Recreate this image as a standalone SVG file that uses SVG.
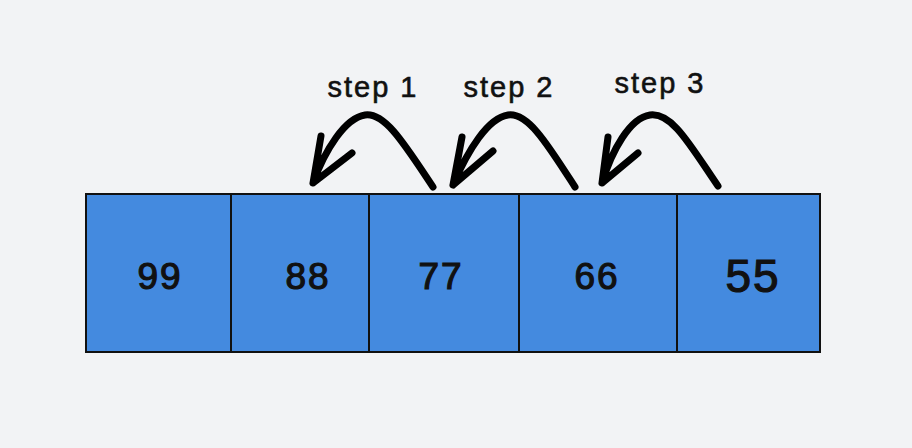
<svg xmlns="http://www.w3.org/2000/svg" width="912" height="448" viewBox="0 0 912 448">
<style>
.cell{fill:#448ADF;stroke:#111;stroke-width:2}
.num{font-family:"Liberation Sans",Arial,sans-serif;font-size:37px;fill:#111;stroke:#111;stroke-width:1.2;text-anchor:middle;letter-spacing:2px}
.lbl{font-family:"Liberation Sans",Arial,sans-serif;font-size:29px;fill:#111;stroke:#111;stroke-width:0.6;text-anchor:middle;letter-spacing:2px}
.arr{fill:none;stroke:#000;stroke-width:7;stroke-linecap:round;stroke-linejoin:round}
</style>
<rect width="912" height="448" fill="#F2F3F5"/>
<g id="cell-99"><rect class="cell" x="86" y="194" width="145" height="158"/><text class="num" x="160" y="289">99</text></g>
<g id="cell-88"><rect class="cell" x="231" y="194" width="138" height="158"/><text class="num" x="308" y="289">88</text></g>
<g id="cell-77"><rect class="cell" x="369" y="194" width="150" height="158"/><text class="num" x="441" y="289">77</text></g>
<g id="cell-66"><rect class="cell" x="519" y="194" width="158" height="158"/><text class="num" x="597" y="289">66</text></g>
<g id="cell-55"><rect class="cell" x="677" y="194" width="143" height="158"/><text class="num" x="753" y="292" style="font-size:46px">55</text></g>
<g id="connectors">
<path class="arr" d="M433 187 C405 145 385 112 365 115 C345 118 325 150 313 183 M321 136 L313 183 L352 153"/>
<path class="arr" d="M575 187 C548 145 528 112 508 115 C488 118 468 150 453 185 M462 137 L453 185 L493 151"/>
<path class="arr" d="M718 186 C690 145 672 112 650 115 C630 118 612 150 602 183 M608 137 L602 183 L638 153"/>
</g>
<g id="labels">
<text class="lbl" x="373" y="97">step 1</text>
<text class="lbl" x="509" y="97">step 2</text>
<text class="lbl" x="660" y="93">step 3</text>
</g>
</svg>
